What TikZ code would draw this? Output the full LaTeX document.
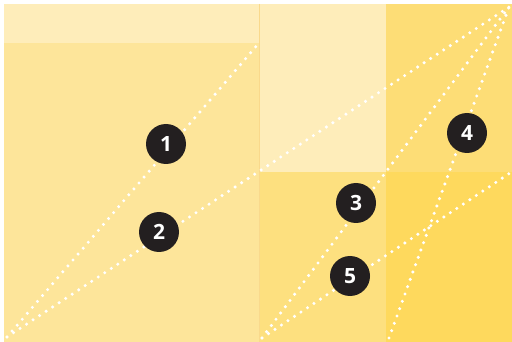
\documentclass[tikz,border=0pt]{standalone}
\usepackage{fontspec}
\setmainfont{Open Sans}
\definecolor{cLight}{HTML}{FEEDBA}
\definecolor{cLeft}{HTML}{FDE59A}
\definecolor{cMidB}{HTML}{FDE07F}
\definecolor{cRightT}{HTML}{FDDD76}
\definecolor{cRightB}{HTML}{FED95D}
\definecolor{cDiv}{HTML}{F9D98C}
\definecolor{cBadge}{HTML}{231F20}
\tikzset{
  dotline/.style={draw=white, line width=3.4pt, line cap=round, dash pattern=on 0pt off 7.8pt},
  badge/.style={circle, fill=cBadge, minimum size=40pt, inner sep=0pt, text=white, font=\fontsize{21}{21}\selectfont\bfseries},
}
\begin{document}
\begin{tikzpicture}[x=1pt,y=-1pt]
\useasboundingbox (0,0) rectangle (512,342);
% panels
\fill[cLight] (4,4) rectangle (259,43);
\fill[cLeft] (4,43) rectangle (259,342);
\fill[cLight] (259,4) rectangle (386,172);
\fill[cRightT] (386,4) rectangle (512,172);
\fill[cMidB] (259,172) rectangle (386,342);
\fill[cRightB] (386,172) rectangle (512,342);
\draw[cDiv, line width=1pt] (259.5,4) -- (259.5,342);
% end points
\coordinate (BL) at (7,337);
\coordinate (A) at (259,43);
\coordinate (TR) at (509,7);
\coordinate (MB) at (262,338);
\coordinate (RB) at (389,338);
\coordinate (RM) at (510,173);
% dotted diagonals
\draw[dotline] (BL) -- (A);
\draw[dotline] (BL) -- (TR);
\draw[dotline] (MB) -- (TR);
\draw[dotline] (RB) -- (TR);
\draw[dotline] (MB) -- (RM);
% badges
\node[badge] (n1) at (166,144) {1};
\node[badge] (n2) at (159,232) {2};
\node[badge] (n3) at (356,203) {3};
\node[badge] (n4) at (467,133) {4};
\node[badge] (n5) at (350,276) {5};
\end{tikzpicture}
\end{document}
